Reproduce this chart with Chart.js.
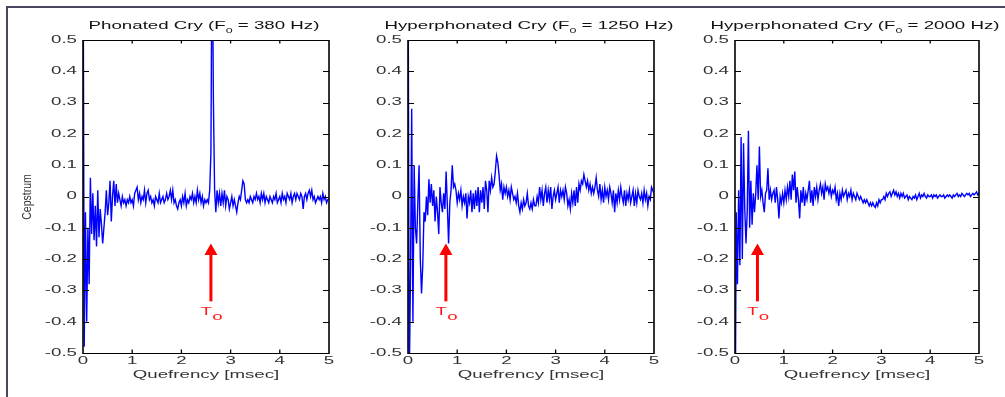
<!DOCTYPE html>
<html><head><meta charset="utf-8">
<script src="https://cdn.jsdelivr.net/npm/chart.js@4.4.1/dist/chart.umd.min.js"></script>
<style>
html,body{margin:0;padding:0;background:#fff;}
#wrap{position:relative;width:1005px;height:397px;overflow:hidden;background:#fff;}
#frame{position:absolute;left:6px;top:6px;width:1010px;height:400px;border-top:2px solid #4b4560;border-left:2px solid #4b4560;}
canvas{position:absolute;left:0;top:0;}
</style></head><body>
<div id="wrap"><div id="frame"></div>
<canvas id="c0" width="1005" height="397"></canvas>
<canvas id="c1" width="1005" height="397"></canvas>
<canvas id="c2" width="1005" height="397"></canvas>
</div>
<script>
// ---------- data ----------
const quefrencyStep = 0.025; // ms between cepstrum samples
const xTickValues = [0, 1, 2, 3, 4, 5];
const xTickLabels = ['0', '1', '2', '3', '4', '5'];
const yTickValues = [-0.5, -0.4, -0.3, -0.2, -0.1, 0, 0.1, 0.2, 0.3, 0.4, 0.5];
const yTickLabels = ['-0.5', '-0.4', '-0.3', '-0.2', '-0.1', '0', '0.1', '0.2', '0.3', '0.4', '0.5'];
const titleMain = ['Phonated Cry (F', 'Hyperphonated Cry (F', 'Hyperphonated Cry (F'];
const titleSub = ['0', '0', '0'];
const titleRest = [' = 380 Hz)', ' = 1250 Hz)', ' = 2000 Hz)'];
const xAxisTitle = 'Quefrency [msec]';
const yAxisTitle = 'Cepstrum';
const periodLabel = 'T';
const periodSub = 'o';
const pitchPeriodMs = [2.6, 0.77, 0.46];
const arrowTipValue = -0.15;
const arrowTailValue = -0.335;

const phonated = [
 0.95,-0.48,-0.05,-0.40,-0.10,-0.28,0.06,-0.12,0.01,-0.14,
 -0.03,-0.16,0.02,-0.13,-0.04,-0.09,-0.15,-0.10,-0.05,0.02,
 -0.06,-0.02,0.05,-0.08,0.00,0.05,-0.03,0.04,-0.02,0.01,
 -0.01,-0.03,0.00,-0.02,-0.01,-0.03,-0.01,-0.02,0.00,-0.02,
 -0.01,-0.03,0.01,0.02,0.03,-0.01,0.01,-0.02,0.00,-0.01,
 0.02,-0.02,0.01,0.02,-0.01,0.00,-0.02,-0.01,-0.03,0.00,
 -0.01,-0.02,0.01,-0.02,-0.01,0.00,-0.02,-0.01,0.01,-0.01,
 0.00,0.02,-0.01,0.02,-0.02,-0.01,-0.03,-0.04,-0.02,-0.01,
 -0.03,0.00,-0.02,0.01,-0.03,-0.01,-0.02,0.00,-0.01,0.01,
 -0.02,0.00,-0.02,0.02,-0.01,0.01,-0.02,0.00,-0.03,-0.01,
 -0.02,-0.01,-0.02,0.02,0.14,0.90,0.31,0.02,-0.05,0.02,
 -0.02,0.01,-0.03,0.01,-0.02,0.02,-0.03,0.00,-0.01,-0.04,
 -0.02,0.00,-0.03,-0.01,-0.03,-0.05,-0.02,0.00,-0.01,0.02,
 0.05,0.04,-0.01,-0.02,-0.01,-0.02,0.00,-0.01,-0.02,0.00,
 -0.01,0.01,-0.01,0.00,-0.02,0.01,-0.01,0.01,-0.02,0.00,
 -0.01,-0.02,0.00,-0.01,-0.02,0.00,-0.01,0.01,-0.02,-0.01,
 0.00,-0.02,0.01,-0.01,0.00,-0.02,0.01,0.00,-0.01,0.01,
 -0.02,0.00,0.01,-0.01,0.01,0.00,-0.01,0.01,0.00,-0.04,
 0.00,0.01,-0.01,0.01,0.02,0.00,0.02,-0.01,0.00,-0.02,
 -0.01,0.00,-0.01,0.00,-0.02,0.01,-0.01,0.00,-0.02,-0.01,-0.01
];
const hyper1250 = [
 0.90,-0.60,-0.26,0.28,-0.40,0.10,-0.10,-0.15,-0.02,0.10,
 -0.20,-0.31,-0.22,-0.05,-0.08,0.00,-0.06,0.055,-0.02,0.04,
 -0.03,0.02,-0.08,0.00,-0.05,-0.12,0.03,-0.02,-0.05,0.01,
 -0.04,0.08,-0.03,-0.15,-0.02,0.02,0.10,0.03,0.04,0.02,
 -0.02,0.01,-0.01,0.02,-0.03,0.00,-0.02,0.01,-0.07,0.00,
 -0.02,0.02,-0.05,0.01,-0.04,0.02,-0.03,0.03,-0.05,0.02,
 -0.02,0.03,-0.04,0.05,0.02,-0.05,0.05,0.02,0.06,0.03,
 0.04,0.08,0.13,0.11,0.07,0.02,0.04,-0.01,0.03,0.01,
 0.03,0.00,0.02,-0.01,0.03,0.01,-0.01,0.00,-0.02,0.01,
 -0.03,-0.05,-0.02,-0.04,-0.01,-0.03,-0.02,0.01,-0.03,-0.04,
 -0.02,-0.04,-0.01,-0.03,-0.03,0.00,-0.02,0.03,-0.01,0.02,
 -0.03,0.01,0.03,-0.02,0.02,-0.01,0.03,-0.04,0.00,0.02,
 -0.01,0.01,0.03,-0.02,0.02,0.00,0.02,-0.01,0.03,0.01,
 -0.03,-0.01,-0.04,0.01,-0.02,0.02,-0.03,0.03,-0.02,0.04,
 0.02,0.05,0.04,0.07,0.05,0.03,0.05,0.02,0.04,0.01,
 0.03,0.01,0.03,0.06,0.02,0.00,0.04,-0.01,0.02,-0.02,
 0.03,0.00,0.02,-0.01,0.03,0.01,-0.02,0.02,-0.05,0.01,
 -0.02,0.02,-0.01,0.03,0.00,-0.02,0.02,-0.03,0.01,-0.01,
 0.02,-0.02,0.00,0.02,-0.03,0.01,-0.02,0.02,0.00,-0.01,
 0.01,-0.02,0.02,-0.01,0.01,-0.03,0.00,-0.01,0.03,0.02,0.01
];
const hyper2000 = [
 -0.90,-0.05,-0.28,0.02,-0.22,0.19,-0.20,0.17,-0.04,-0.15,
 -0.05,0.21,-0.10,0.05,-0.09,0.01,-0.05,0.01,0.10,-0.01,
 0.16,0.00,0.02,-0.02,-0.05,0.01,0.02,0.09,-0.01,0.02,
 -0.01,0.01,0.02,-0.02,0.03,-0.01,-0.07,0.00,-0.02,0.01,
 -0.02,0.02,-0.01,0.03,0.00,0.05,-0.01,0.07,0.02,0.08,
 -0.02,0.03,-0.01,-0.07,0.02,-0.02,0.03,-0.03,0.01,-0.01,
 0.02,0.05,-0.02,0.02,-0.03,0.03,0.00,0.03,-0.01,0.02,
 0.04,0.01,0.03,-0.01,0.04,0.02,0.03,0.01,0.03,0.00,
 0.02,0.01,0.03,-0.01,0.01,-0.03,0.01,-0.01,0.02,0.00,
 0.01,0.02,-0.01,0.01,0.00,0.02,-0.01,0.01,0.00,-0.01,
 0.01,0.00,-0.01,0.00,-0.01,-0.02,-0.01,-0.02,-0.01,-0.02,
 -0.03,-0.02,-0.03,-0.02,-0.03,-0.035,-0.02,-0.03,-0.01,-0.02,
 -0.01,-0.01,0.00,-0.01,0.01,0.00,0.01,0.015,0.00,0.01,
 0.02,0.005,0.015,0.00,0.01,-0.005,0.01,0.00,0.01,-0.005,
 0.00,0.005,-0.01,0.00,-0.005,-0.01,0.00,-0.005,0.005,-0.01,
 0.00,0.01,-0.005,0.005,0.00,0.01,0.00,-0.005,0.005,0.00,
 0.00,0.005,-0.005,0.005,0.00,0.005,-0.005,0.00,0.005,0.00,
 0.00,0.005,-0.005,0.00,0.005,0.00,0.005,0.00,-0.005,0.005,
 0.00,0.005,0.01,0.00,0.005,0.00,0.01,0.005,0.00,0.005,
 0.01,0.005,0.01,0.00,0.005,0.01,0.005,0.01,0.015,0.005,0.01
];
const seriesList = [phonated, hyper1250, hyper2000];

// ---------- layout / style ----------
const FONT = '"Liberation Sans", Arial, sans-serif';
const TEXT_COLOR = '#333';
const SX = 1.78; // horizontal stretch of the original bitmap text
const PLOTS = [{left:83, right:329}, {left:408, right:654}, {left:735, right:979}];
const TOP = 40, BOTTOM = 353, W = 1005, H = 397, YAXW = 50, XAXH = 30;

const origFill = CanvasRenderingContext2D.prototype.fillText;
CanvasRenderingContext2D.prototype.fillText = function(text, x, y) {
  const m = this.getTransform();
  this.save();
  this.translate(x, y);
  if (Math.abs(m.b) > 1e-6) this.scale(1, SX); else this.scale(SX, 1);
  origFill.call(this, text, 0, 0);
  this.restore();
};
function stretchText(ctx, text, x, y, align, sx, rotated) {
  ctx.save();
  ctx.translate(x, y);
  if (rotated) { ctx.rotate(-Math.PI / 2); ctx.scale(1, sx); } else { ctx.scale(sx, 1); }
  ctx.textAlign = align;
  origFill.call(ctx, text, 0, 0);
  ctx.restore();
}

const decor = {
  id: 'panelDecor',
  afterDraw(chart, args, opts) {
    const ctx = chart.ctx, a = chart.chartArea, i = opts.index;
    const xs = chart.scales.x, ys = chart.scales.y;
    ctx.save();
    // box
    ctx.strokeStyle = '#000';
    ctx.lineWidth = 1;
    ctx.beginPath();
    ctx.moveTo(a.left, a.top + 0.5); ctx.lineTo(a.right, a.top + 0.5);
    ctx.moveTo(a.left, a.bottom + 0.5); ctx.lineTo(a.right, a.bottom + 0.5);
    ctx.stroke();
    ctx.lineWidth = 1.6;
    ctx.beginPath();
    ctx.moveTo(a.left, a.top); ctx.lineTo(a.left, a.bottom + 1);
    ctx.moveTo(a.right, a.top); ctx.lineTo(a.right, a.bottom + 1);
    ctx.stroke();
    // inward ticks
    ctx.lineWidth = 1.3;
    ctx.beginPath();
    xTickValues.forEach(v => {
      if (v === xs.min || v === xs.max) return;
      const px = xs.getPixelForValue(v);
      ctx.moveTo(px, a.bottom); ctx.lineTo(px, a.bottom - 3.5);
      ctx.moveTo(px, a.top); ctx.lineTo(px, a.top + 3.5);
    });
    ctx.stroke();
    ctx.lineWidth = 1;
    ctx.beginPath();
    yTickValues.forEach(v => {
      if (v === ys.min || v === ys.max) return;
      const py = Math.round(ys.getPixelForValue(v)) + 0.5;
      ctx.moveTo(a.left, py); ctx.lineTo(a.left + 6, py);
      ctx.moveTo(a.right, py); ctx.lineTo(a.right - 6, py);
    });
    ctx.stroke();
    // title
    ctx.fillStyle = '#111';
    ctx.textBaseline = 'alphabetic';
    ctx.font = '10.5px ' + FONT;
    const w1 = ctx.measureText(titleMain[i]).width * SX;
    const w3 = ctx.measureText(titleRest[i]).width * SX;
    ctx.font = '7px ' + FONT;
    const w2 = ctx.measureText(titleSub[i]).width * SX;
    let tx = (a.left + a.right) / 2 - 2 - (w1 + w2 + w3) / 2;
    ctx.font = '10.5px ' + FONT;
    stretchText(ctx, titleMain[i], tx, 28.5, 'left', SX, false);
    tx += w1;
    ctx.font = '7px ' + FONT;
    stretchText(ctx, titleSub[i], tx, 32.5, 'left', SX, false);
    tx += w2;
    ctx.font = '10.5px ' + FONT;
    stretchText(ctx, titleRest[i], tx, 28.5, 'left', SX, false);
    // y axis title
    if (i === 0) {
      ctx.fillStyle = TEXT_COLOR;
      ctx.font = '10.5px ' + FONT;
      ctx.textBaseline = 'middle';
      stretchText(ctx, yAxisTitle, 27.5, 197, 'center', 1.3, true);
    }
    // arrow marking the pitch period
    const ax = xs.getPixelForValue(pitchPeriodMs[i]);
    const tipY = ys.getPixelForValue(arrowTipValue);
    const tailY = ys.getPixelForValue(arrowTailValue);
    ctx.fillStyle = '#ff0000';
    ctx.fillRect(ax - 1.5, tipY + 10, 3, tailY - tipY - 10);
    ctx.beginPath();
    ctx.moveTo(ax, tipY);
    ctx.lineTo(ax + 6.5, tipY + 11.5);
    ctx.lineTo(ax - 6.5, tipY + 11.5);
    ctx.closePath();
    ctx.fill();
    ctx.fillStyle = '#ff1a1a';
    ctx.textBaseline = 'alphabetic';
    ctx.font = '10.5px ' + FONT;
    stretchText(ctx, periodLabel, ax + 1, 315, 'right', SX, false);
    stretchText(ctx, periodSub, ax + 1.3, 320, 'left', SX, false);
    ctx.restore();
  }
};

seriesList.forEach((values, i) => {
  const P = PLOTS[i];
  new Chart(document.getElementById('c' + i), {
    type: 'line',
    data: {
      datasets: [{
        data: values.map((v, k) => ({x: k * quefrencyStep, y: v})),
        borderColor: '#0000ff',
        borderWidth: 1.4,
        pointRadius: 0,
        tension: 0,
        fill: false
      }]
    },
    options: {
      responsive: false,
      animation: false,
      events: [],
      layout: {padding: {left: P.left - YAXW, right: W - P.right, top: TOP, bottom: H - BOTTOM - XAXH}},
      plugins: {legend: {display: false}, tooltip: {enabled: false}, panelDecor: {index: i}},
      scales: {
        x: {
          type: 'linear', min: 0, max: 5,
          afterBuildTicks: s => { s.ticks = xTickValues.map(v => ({value: v})); },
          afterFit: s => { s.height = XAXH; },
          grid: {display: false, drawTicks: false},
          border: {display: false},
          ticks: {padding: 2, color: TEXT_COLOR, font: {family: FONT, size: 10.5}, maxRotation: 0, autoSkip: false,
                  callback: (v, k) => xTickLabels[k]},
          title: {display: true, text: xAxisTitle, color: TEXT_COLOR, font: {family: FONT, size: 10.5}, padding: {top: 0, bottom: 2}}
        },
        y: {
          type: 'linear', min: -0.5, max: 0.5,
          afterBuildTicks: s => { s.ticks = yTickValues.map(v => ({value: v})); },
          afterFit: s => { s.width = YAXW; },
          grid: {display: false, drawTicks: false},
          border: {display: false},
          ticks: {padding: 6, color: TEXT_COLOR, font: {family: FONT, size: 10.5}, autoSkip: false,
                  callback: (v, k) => yTickLabels[k]}
        }
      }
    },
    plugins: [decor]
  });
});
</script>
</body></html>
